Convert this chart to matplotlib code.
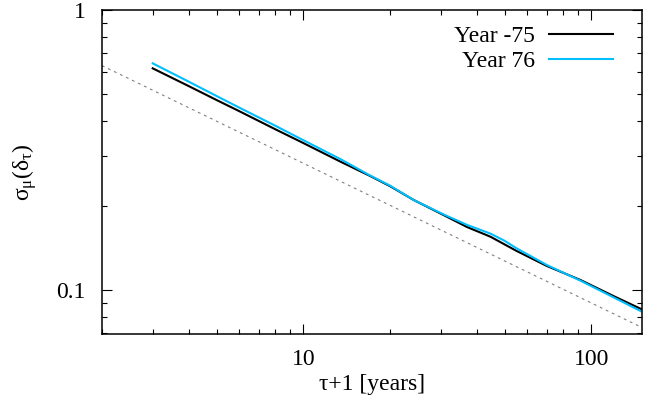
import matplotlib
matplotlib.use("Agg")
import matplotlib.pyplot as plt
from matplotlib.ticker import FixedLocator, NullFormatter, LogLocator

# Data
tau_black = [3, 4, 5, 6, 8, 10, 13.5, 17, 20, 24.2, 30.8, 37, 44.7, 55, 70, 91.8, 120, 150]
sigma_black = [0.619, 0.535, 0.477, 0.435, 0.375, 0.335, 0.287, 0.256, 0.235, 0.2096,
               0.185, 0.168, 0.155, 0.138, 0.122, 0.1086, 0.095, 0.0853]
tau_cyan = [3, 4, 5, 6, 8, 10, 13.5, 17, 20, 24.2, 30.8, 37, 44.7, 50, 55, 70, 91.8, 120, 150]
sigma_cyan = [0.645, 0.555, 0.493, 0.448, 0.386, 0.343, 0.293, 0.257, 0.236, 0.2096,
              0.186, 0.171, 0.159, 0.150, 0.141, 0.123, 0.108, 0.094, 0.0837]
ref_x = [2, 150]
ref_y = [0.633, 0.0735]

label_black = "Year -75"
label_cyan = "Year 76"
xticks = [10, 100]
xticklabels = ["10", "100"]
yticks = [0.1, 1]
yticklabels = ["0.1", "1"]

plt.rcParams['font.family'] = ['Liberation Serif', 'DejaVu Serif']
plt.rcParams['mathtext.fontset'] = 'custom'
plt.rcParams['mathtext.rm'] = 'Liberation Serif'
plt.rcParams['mathtext.it'] = 'Liberation Serif'

FS = 17

fig = plt.figure(figsize=(6.61, 4.03), dpi=100)
ax = fig.add_axes([0.1543, 0.1712, 0.9713 - 0.1543, 0.9752 - 0.1712])

ax.plot(ref_x, ref_y, color='#808080', lw=0.8, dashes=(2.5, 3.5))
ax.plot(tau_black, sigma_black, color='black', lw=1.5, label=label_black)
ax.plot(tau_cyan, sigma_cyan, color='#00bfff', lw=1.5, label=label_cyan)

ax.set_xscale('log')
ax.set_yscale('log')
ax.set_xlim(2, 150)
ax.set_ylim(0.0697, 1)

ax.xaxis.set_major_locator(FixedLocator(xticks))
ax.set_xticklabels(xticklabels)
ax.yaxis.set_major_locator(FixedLocator(yticks))
ax.set_yticklabels(yticklabels)
ax.xaxis.set_minor_locator(LogLocator(base=10, subs=range(2, 10)))
ax.yaxis.set_minor_locator(LogLocator(base=10, subs=range(2, 10)))
ax.xaxis.set_minor_formatter(NullFormatter())
ax.yaxis.set_minor_formatter(NullFormatter())

ax.tick_params(which='both', direction='in', top=True, right=True, colors='black',
               labelsize=FS, width=0.8)
ax.tick_params(which='major', length=7)
ax.tick_params(axis='x', which='major', pad=11)
ax.tick_params(axis='y', which='major', pad=12)
ax.tick_params(which='minor', length=3.5)
for s in ax.spines.values():
    s.set_linewidth(1.1)

ax.set_xlabel("τ+1 [years]", fontsize=FS, labelpad=3)
ax.set_ylabel(r"$\mathregular{σ_μ(δ_τ)}$", fontsize=FS, labelpad=12)

ax.legend(loc='upper right', frameon=False, markerfirst=False, fontsize=FS,
          handlelength=2.7, handletextpad=0.6, labelspacing=0.15,
          bbox_to_anchor=(0.985, 1.018))

fig.savefig("out.png", dpi=100)
